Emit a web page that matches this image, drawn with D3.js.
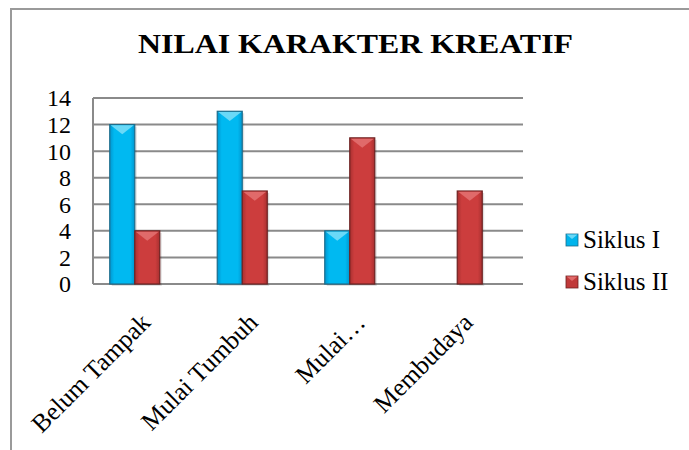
<!DOCTYPE html>
<html>
<head>
<meta charset="utf-8">
<script src="https://cdn.jsdelivr.net/npm/d3@7"></script>
<style>
  html, body { margin: 0; padding: 0; background: #fff; }
  svg { display: block; }
  svg text { font-family: "Liberation Serif", "Times New Roman", serif !important; }
</style>
</head>
<body>
<div id="chart"></div>
<script>
// data
const categories = ["Belum Tampak", "Mulai Tumbuh", "Mulai…", "Membudaya"];
const seriesNames = ["Siklus I", "Siklus II"];
const siklus1 = [12, 13, 4, 0];
const siklus2 = [4, 7, 11, 7];
const yTicks = [0, 2, 4, 6, 8, 10, 12, 14];

const W = 689, H = 450;
const svg = d3.select("#chart").append("svg")
  .attr("width", W)
  .attr("height", H);

const defs = svg.append("defs");
function barGradient(id, edge, mid) {
  const g = defs.append("linearGradient").attr("id", id)
    .attr("x1", "0%").attr("x2", "100%").attr("y1", "0%").attr("y2", "0%");
  g.append("stop").attr("offset", "0%").attr("stop-color", edge);
  g.append("stop").attr("offset", "18%").attr("stop-color", mid);
  g.append("stop").attr("offset", "82%").attr("stop-color", mid);
  g.append("stop").attr("offset", "100%").attr("stop-color", edge);
}
barGradient("gBlue", "#0096cf", "#00b9f1");
barGradient("gRed", "#a83030", "#cc3d3d");

const palette = {
  "Siklus I": { fill: "url(#gBlue)", top: "#6ad9f7", stroke: "#1d6d8c", solid: "#00b4ec" },
  "Siklus II": { fill: "url(#gRed)", top: "#e06a6a", stroke: "#6e2222", solid: "#c03a3a" }
};

// outer frame
svg.append("rect")
  .attr("x", 11).attr("y", 9)
  .attr("width", 900).attr("height", 900)
  .attr("fill", "none")
  .attr("stroke", "#9a9a9a")
  .attr("stroke-width", 2);

// title
svg.append("text")
  .attr("x", 355.5).attr("y", 53)
  .attr("text-anchor", "middle")
  .attr("font-weight", "bold")
  .attr("font-size", 28)
  .attr("textLength", 435)
  .attr("lengthAdjust", "spacingAndGlyphs")
  .text("NILAI KARAKTER KREATIF");

// scales
const plot = { left: 93, right: 523, top: 98, bottom: 284 };
const y = d3.scaleLinear().domain([0, 14]).range([plot.bottom, plot.top]);
const x = d3.scaleBand().domain(categories).range([plot.left - 12, plot.right - 12]);
const xs = d3.scaleBand().domain(seriesNames)
  .range([x.bandwidth() / 2 - 25, x.bandwidth() / 2 + 25]);

// gridlines
svg.append("g")
  .selectAll("line")
  .data(yTicks)
  .join("line")
  .attr("x1", plot.left).attr("x2", plot.right)
  .attr("y1", d => y(d)).attr("y2", d => y(d))
  .attr("stroke", "#8a8a8a")
  .attr("stroke-width", 2);
svg.append("line")
  .attr("x1", plot.left).attr("x2", plot.left)
  .attr("y1", plot.top).attr("y2", plot.bottom)
  .attr("stroke", "#8a8a8a")
  .attr("stroke-width", 2);

// y axis labels
const yAxis = svg.append("g")
  .attr("transform", `translate(${plot.left - 22},0)`)
  .call(d3.axisLeft(y).tickValues(yTicks).tickSize(0).tickPadding(0));
yAxis.select(".domain").remove();
yAxis.selectAll("text")
  .attr("font-size", 24)
  .attr("fill", "#000")
  .attr("dy", "0.33em");

// bars
const rows = categories.map((c, i) => ({
  cat: c,
  vals: [
    { s: "Siklus I", v: siklus1[i] },
    { s: "Siklus II", v: siklus2[i] }
  ].filter(d => d.v > 0)
}));

const groups = svg.append("g")
  .selectAll("g")
  .data(rows)
  .join("g")
  .attr("transform", d => `translate(${x(d.cat)},0)`);

const bars = groups.selectAll("g")
  .data(d => d.vals)
  .join("g")
  .attr("transform", d => `translate(${xs(d.s)},0)`);

// soft shadow
bars.append("rect")
  .attr("x", 2).attr("y", d => y(d.v) + 2)
  .attr("width", xs.bandwidth())
  .attr("height", d => y(0) - y(d.v))
  .attr("fill", "#000")
  .attr("opacity", 0.12);

bars.append("rect")
  .attr("x", 0).attr("y", d => y(d.v))
  .attr("width", xs.bandwidth())
  .attr("height", d => y(0) - y(d.v))
  .attr("fill", d => palette[d.s].fill)
  .attr("stroke", d => palette[d.s].stroke)
  .attr("stroke-width", 1.2);

// bevel at top
bars.append("path")
  .attr("d", d => {
    const t = y(d.v) + 0.8, w = xs.bandwidth();
    return `M1,${t} L${w - 1},${t} L${w / 2},${t + 9} Z`;
  })
  .attr("fill", d => palette[d.s].top);

// x labels
svg.append("g")
  .selectAll("text")
  .data(categories)
  .join("text")
  .attr("transform", d => `translate(${x(d) + x.bandwidth() / 2 + 17},324) rotate(-45)`)
  .attr("text-anchor", "end")
  .attr("font-size", 25.5)
  .text(d => d);

// legend
const legend = svg.append("g")
  .attr("transform", "translate(566,234)");
const items = legend.selectAll("g")
  .data(seriesNames)
  .join("g")
  .attr("transform", (d, i) => `translate(0,${i * 42})`);
items.append("rect")
  .attr("width", 12).attr("height", 12)
  .attr("fill", d => palette[d].solid)
  .attr("stroke", d => palette[d].stroke)
  .attr("stroke-width", 0.8);
items.append("path")
  .attr("d", "M0.5,0.5 L11.5,0.5 L6,5 Z")
  .attr("fill", d => palette[d].top);
items.append("text")
  .attr("x", 17).attr("y", 14)
  .attr("font-size", 25)
  .text(d => d);
</script>
</body>
</html>
